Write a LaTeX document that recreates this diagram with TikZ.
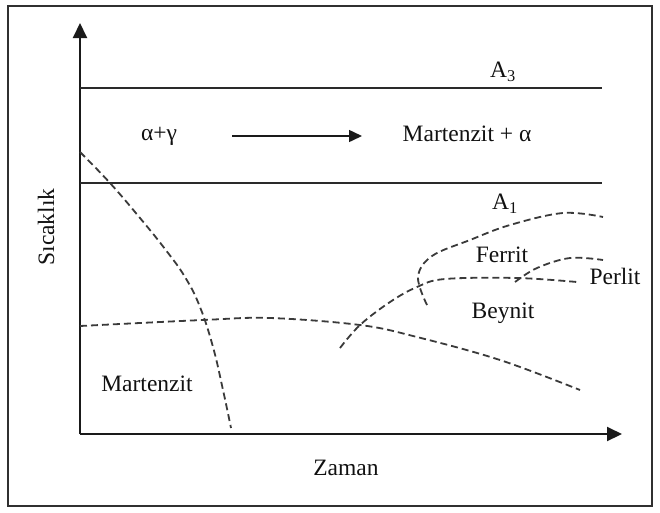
\documentclass[tikz,border=0pt]{standalone}
\usepackage{fontspec}
\setmainfont{Liberation Serif}
\usetikzlibrary{arrows.meta}
\definecolor{clraxis}{HTML}{1A1A1A}
\definecolor{clrline}{HTML}{2A2A2A}
\definecolor{clrcurve}{HTML}{3A3A3A}
\definecolor{clrframe}{HTML}{303030}
\definecolor{clrtext}{HTML}{111111}

\begin{document}
\begin{tikzpicture}[
    x=1pt, y=-1pt,
    every node/.style={inner sep=0pt},
    axis/.style={-{Triangle[length=15pt, width=14pt]}, color=clraxis, line width=2pt},
    phaseline/.style={color=clrline, line width=1.5pt},
    arrow/.style={-{Triangle[length=13pt, width=12pt]}, color=clraxis, line width=1.5pt},
    curve/.style={color=clrcurve, line width=1.8pt, dash pattern=on 7pt off 4pt},
    label/.style={font=\fontsize{23.5}{28}\selectfont, text=clrtext},
]
\useasboundingbox (0,0) rectangle (660,512);
\draw[color=clrframe, line width=1.5pt] (8,6) rectangle (652,506);
% axes
\coordinate (o) at (80,434);
\coordinate (y_end) at (80,23);
\coordinate (x_end) at (622,434);
\draw[axis] (o) -- (y_end);
\draw[axis] (o) -- (x_end);
% critical temperatures
\coordinate (a3_l) at (80,88);
\coordinate (a3_r) at (602,88);
\coordinate (a1_l) at (80,183);
\coordinate (a1_r) at (602,183);
\draw[phaseline] (a3_l) -- (a3_r);
\draw[phaseline] (a1_l) -- (a1_r);
\node[label] (n_a3) at (503,72) {A\textsubscript{3}};
\node[label] (n_a1) at (505,204) {A\textsubscript{1}};
% transformation
\node[label] (n_ag) at (159,136) {α+γ};
\node[label] (n_ma) at (467,134) {Martenzit + α};
\coordinate (tr_s) at (232,136);
\coordinate (tr_e) at (362,136);
\draw[arrow] (tr_s) -- (tr_e);
% axis titles
\node[label, rotate=90] (n_temp) at (46,227) {Sıcaklık};
\node[label] (n_time) at (346,468) {Zaman};
% regions
\node[label] (n_mart) at (147,384) {Martenzit};
\node[label] (n_ferr) at (502,255) {Ferrit};
\node[label] (n_beyn) at (503,313) {Beynit};
\node[label] (n_perl) at (615,276) {Perlit};
% cooling and transformation curves
\draw[curve] plot[smooth, tension=0.7] coordinates {(80,152) (110,183) (140,218) (165,249) (185,277) (200,307) (213,347) (223,390) (231,428)};
\draw[curve] plot[smooth, tension=0.6] coordinates {(80,326) (203,320) (270,318) (360,325) (417,337) (500,360) (580,390)};
\draw[curve] plot[smooth, tension=0.6] coordinates {(340,348) (360,325) (390,302) (417,287) (445,279) (517,278) (577,282)};
\draw[curve] plot[smooth, tension=0.6] coordinates {(427,305) (418,277) (432,256) (470,240) (510,225) (563,213) (603,217)};
\draw[curve] plot[smooth, tension=0.6] coordinates {(515,282) (537,268) (570,258) (603,260)};
\end{tikzpicture}
\end{document}
